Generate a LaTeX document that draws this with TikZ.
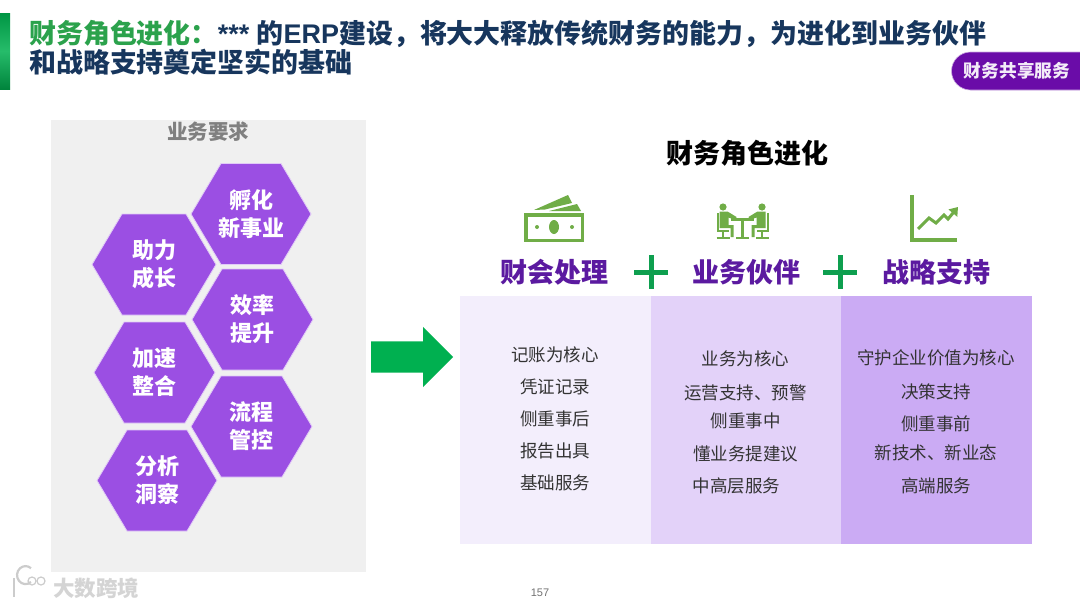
\documentclass[tikz,border=0pt]{standalone}
\usepackage{fontspec}
\usepackage{xcolor}
\setmainfont{Noto Sans CJK SC}
\newfontfamily\latinfont{Liberation Sans}
\usetikzlibrary{arrows.meta,positioning,shapes.arrows,shapes.misc}
\definecolor{titlenavy}{HTML}{17365D}
\definecolor{titlegreen}{HTML}{2BA24C}
\definecolor{tagpurple}{HTML}{6A0CA8}
\definecolor{hexpurple}{HTML}{9B4FE3}
\definecolor{headpurple}{HTML}{5B1AA0}
\definecolor{plusgreen}{HTML}{0E9F4F}
\definecolor{arrowgreen}{HTML}{00B050}
\definecolor{iconolive}{HTML}{70AD47}
\definecolor{panelgray}{HTML}{F0F0F0}
\definecolor{cola}{HTML}{F3EEFC}
\definecolor{colb}{HTML}{E3D2F9}
\definecolor{colc}{HTML}{CBABF4}
% name, centre x, centre y, half width, text
\newcommand{\hexnode}[5]{
  \draw[hexshape] (#2-#4,#3) -- (#2-#4+30,#3-50.5) -- (#2+#4-30,#3-50.5) -- (#2+#4,#3) -- (#2+#4-30,#3+50.5) -- (#2-#4+30,#3+50.5) -- cycle;
  \node[hexcell] (#1) at (#2,#3) {#5};
}

\begin{document}
\begin{tikzpicture}[
  x=1pt, y=-1pt,
  hexshape/.style={fill=hexpurple, draw=white!70!hexpurple, line width=0.8pt},
  hexcell/.style={inner sep=0pt, text=white, align=center, font=\fontsize{22}{28}\selectfont\bfseries},
  colbox/.style={minimum width=190.5pt, minimum height=248pt, inner sep=0pt, outer sep=0pt},
  listtext/.style={align=center, text=black!80, font=\fontsize{17.5}{32}\selectfont},
  headtext/.style={text=headpurple, font=\fontsize{27}{30}\selectfont\bfseries},
  plusbar/.style={draw=plusgreen, line width=5pt},
  iconline/.style={draw=iconolive, line width=3.5pt}
]
\fill[white] (0,0) rectangle (1080,608);
\useasboundingbox (0,0) rectangle (1080,608);

% title
\shade[top color=arrowgreen!85!black, bottom color=arrowgreen!75!black, middle color=arrowgreen!85!white] (0,13) rectangle (10,89);
\node[anchor=west, align=left, inner sep=0pt, text=titlenavy, font=\fontsize{26.95}{29}\selectfont\bfseries] (title) at (29,47.5)
  {\textcolor{titlegreen}{财务角色进化：}{\latinfont *** }的{\latinfont ERP}建设，将大大释放传统财务的能力，为进化到业务伙伴\\和战略支持奠定坚实的基础};
\node[rounded rectangle, rounded rectangle right arc=none, fill=tagpurple, draw=tagpurple!35, line width=0.6pt, minimum width=129pt, minimum height=38pt, inner sep=0pt, text=white!92!tagpurple, font=\fontsize{17.7}{20}\selectfont\bfseries] (tag) at (1017,71) {财务共享服务};

% left panel
\node[fill=panelgray, minimum width=315pt, minimum height=452pt, inner sep=0pt] (panel) at (208.5,346) {};
\node[text=black!50, font=\fontsize{20.5}{22}\selectfont\bfseries] (paneltitle) at (208,132) {业务要求};
\hexnode{fuhua}{251}{214}{60}{孵化\\新事业}
\hexnode{zhuli}{154}{264.5}{62}{助力\\成长}
\hexnode{xiaolv}{252.5}{319.5}{60.5}{效率\\提升}
\hexnode{jiasu}{154.5}{372.5}{60.5}{加速\\整合}
\hexnode{liucheng}{251.5}{426.5}{60.5}{流程\\管控}
\hexnode{fenxi}{157}{480.5}{60}{分析\\洞察}

\node[single arrow, fill=arrowgreen, minimum height=82pt, minimum width=60pt, single arrow head extend=14.5pt, inner xsep=0pt, inner ysep=15.5pt, anchor=tail] (bigarrow) at (371,357) {};

% right part
\node[text=black, font=\fontsize{27}{30}\selectfont\bfseries] (righttitle) at (747,153) {财务角色进化};
\node[colbox, fill=cola] (cola) at (555.5,420) {};
\node[colbox, fill=colb, right=0pt of cola] (colb) {};
\node[colbox, fill=colc, right=0pt of colb] (colc) {};
\node[headtext] (heada) at (554.5,272) {财会处理};
\node[headtext] (headb) at (746,272) {业务伙伴};
\node[headtext] (headc) at (936.5,272) {战略支持};
\draw[plusbar] (634,272) -- (668,272);
\draw[plusbar] (651,255) -- (651,289);
\draw[plusbar] (823,272) -- (857,272);
\draw[plusbar] (840,255) -- (840,289);

\node[listtext] (lista) at (555,419) {记账为核心\\凭证记录\\侧重事后\\报告出具\\基础服务};
\node[listtext] (listb) at (745.5,422) {业务为核心\\[2pt]运营支持、预警\\[-4pt]侧重事中\\[1pt]懂业务提建议\\中高层服务\hspace*{18pt}};
\node[listtext] (listc) at (936,422) {守护企业价值为核心\\[2pt]决策支持\\侧重事前\\[-3pt]新技术、新业态\\[1pt]高端服务};

% money icon
\draw[iconline] (525.75,214.75) rectangle (582.25,240.25);
\fill[iconolive] (554,227) ellipse (5 and 7);
\fill[iconolive] (537,227) circle (2);
\fill[iconolive] (572,227) circle (2);
\fill[iconolive] (534,210) -- (568,195) -- (572,203) -- (545,209.5) -- cycle;
\fill[iconolive] (549,211) -- (577,204) -- (581,211) -- cycle;

% partner icon
\foreach \sgn in {1,-1} {
  \begin{scope}[shift={(742.5,0)}, xscale=\sgn]
    \fill[iconolive] (-19.5,207) circle (3.6);
    \fill[iconolive] (-23,211.5) -- (-15,211.5) -- (-6,217) -- (-7,220) -- (-14,217.5) -- (-14,225) -- (-9,225) -- (-9,237) -- (-12,237) -- (-12,228) -- (-23,228) -- cycle;
    \draw[iconolive, line width=2pt] (-25,213) -- (-25,231) -- (-14,231);
    \draw[iconolive, line width=2pt] (-19.5,231) -- (-19.5,237);
    \draw[iconolive, line width=2pt] (-26,237.5) -- (-13,237.5);
  \end{scope}
}
\draw[iconolive, line width=2.5pt] (731,219.5) -- (754,219.5);
\draw[iconolive, line width=2.5pt] (742.5,219.5) -- (742.5,238);
\draw[iconolive, line width=2pt] (736,238) -- (749,238);

% chart icon
\draw[iconline] (912,195) -- (912,240) -- (957,240);
\draw[draw=iconolive, line width=3pt, -{Triangle[length=8pt,width=11pt]}] (918,229) -- (929,218) -- (936,223) -- (944,215) -- (948,219) -- (958,207);

% footer
\node[text=black!55, font=\latinfont\fontsize{11}{13}\selectfont] (pagenum) at (540,593) {157};
\node[text=black!17, font=\fontsize{21.5}{24}\selectfont\bfseries] (watermark) at (96,588) {大数跨境};
\draw[black!20, line width=2.6pt] (14,578) -- (14,597);
\draw[black!20, line width=2.2pt] (31,582) arc (50:310:8.5 and 9);
\draw[black!20, line width=1.2pt] (32,581) circle (4);
\draw[black!20, line width=1.2pt] (41,581) circle (4);
\end{tikzpicture}
\end{document}
